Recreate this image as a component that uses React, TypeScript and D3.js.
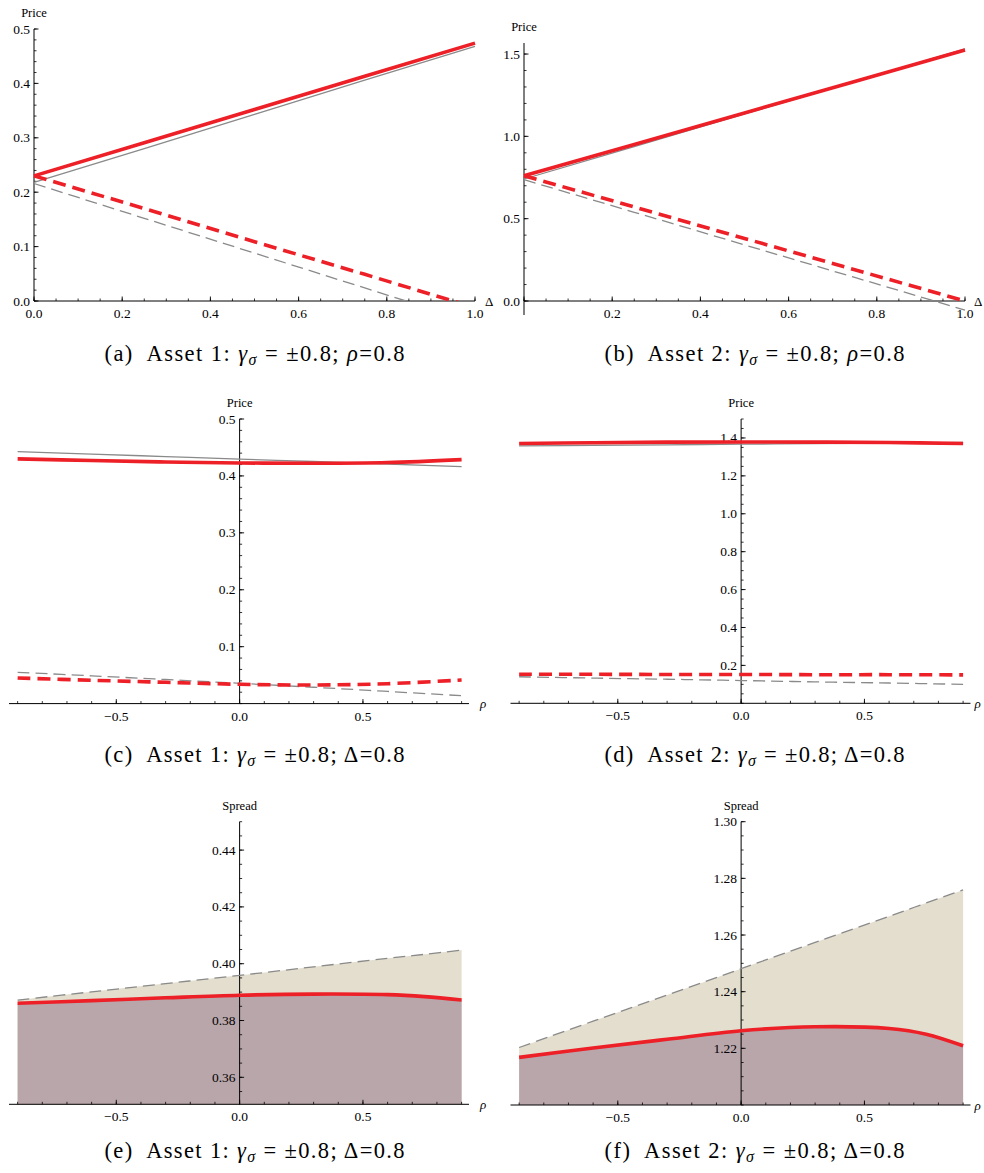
import React from 'react';
import * as d3 from 'd3';

// values
const DELTA = [0, 0.25, 0.5, 0.75, 1];
const A1_RED = [0.23, 0.291, 0.352, 0.413, 0.474];
const A1_GRAY = [0.218, 0.28, 0.343, 0.406, 0.468];
const A1_RED_DASH = [0.23, 0.17, 0.109, 0.049, -0.012];
const A1_GRAY_DASH = [0.216, 0.152, 0.088, 0.024, -0.04];

const A2_RED = [0.761, 0.951, 1.142, 1.333, 1.524];
const A2_GRAY = [0.741, 0.938, 1.136, 1.333, 1.532];
const A2_RED_DASH = [0.761, 0.571, 0.38, 0.19, 0.0];
const A2_GRAY_DASH = [0.737, 0.539, 0.341, 0.143, -0.055];

const RHO = [-0.9, -0.6, -0.3, 0, 0.3, 0.6, 0.9];
const C_RED = [0.4299, 0.427, 0.4245, 0.4228, 0.4222, 0.4235, 0.4287];
const C_GRAY = [0.4427, 0.4384, 0.434, 0.4296, 0.4253, 0.4209, 0.4165];
const C_RED_DASH = [0.045, 0.041, 0.0374, 0.0339, 0.0327, 0.035, 0.0415];
const C_GRAY_DASH = [0.055, 0.0488, 0.0423, 0.0357, 0.0287, 0.0214, 0.0139];

const D_RED = [1.371, 1.375, 1.378, 1.379, 1.378, 1.376, 1.371];
const D_GRAY = [1.358, 1.361, 1.364, 1.367, 1.37, 1.373, 1.376];
const D_RED_DASH = [0.153, 0.153, 0.152, 0.152, 0.151, 0.151, 0.15];
const D_GRAY_DASH = [0.14, 0.133, 0.127, 0.12, 0.113, 0.107, 0.1];

const RHO_S = [-0.9, -0.6, -0.3, 0, 0.3, 0.6, 0.75, 0.9];
const E_RED = [0.3861, 0.387, 0.388, 0.3889, 0.3893, 0.3891, 0.3884, 0.3872];
const E_GRAY_DASH = [0.3872, 0.3901, 0.393, 0.3959, 0.3989, 0.4019, 0.4033, 0.4048];
const F_RED = [1.2168, 1.2201, 1.2232, 1.2262, 1.2276, 1.227, 1.225, 1.2209];
const F_GRAY_DASH = [1.2203, 1.2296, 1.2388, 1.2481, 1.2574, 1.2666, 1.2713, 1.2759];

const DELTA_TICKS = [0, 0.2, 0.4, 0.6, 0.8, 1.0];
const RHO_TICKS = [-0.5, 0, 0.5];
const A_Y_TICKS = [0, 0.1, 0.2, 0.3, 0.4, 0.5];
const B_Y_TICKS = [0, 0.5, 1.0, 1.5];
const C_Y_TICKS = [0.1, 0.2, 0.3, 0.4, 0.5];
const D_Y_TICKS = [0.2, 0.4, 0.6, 0.8, 1.0, 1.2, 1.4];
const E_Y_TICKS = [0.36, 0.38, 0.4, 0.42, 0.44];
const F_Y_TICKS = [1.22, 1.24, 1.26, 1.28, 1.3];

const CAPTIONS = [
  { tag: 'a', asset: 1, par: 'ρ' },
  { tag: 'b', asset: 2, par: 'ρ' },
  { tag: 'c', asset: 1, par: 'Δ' },
  { tag: 'd', asset: 2, par: 'Δ' },
  { tag: 'e', asset: 1, par: 'Δ' },
  { tag: 'f', asset: 2, par: 'Δ' },
];

const RED = '#ed1f27';
const GRAY = '#8a8a8a';
const BEIGE = '#e3dece';
const MAUVE = '#b9a6ab';
const SERIF = "'Liberation Serif', 'Times New Roman', Times, 'DejaVu Serif', serif";
const serif = { fontFamily: SERIF };

type Kind = 'red' | 'gray' | 'redDash' | 'grayDash';
type Series = { xs: number[]; ys: number[]; kind: Kind };

const STYLE: Record<Kind, { stroke: string; w: number; dash?: string }> = {
  gray: { stroke: GRAY, w: 1.3 },
  grayDash: { stroke: GRAY, w: 1.3, dash: '12,6' },
  red: { stroke: RED, w: 3.6 },
  redDash: { stroke: RED, w: 3.6, dash: '13,7' },
};

function ticksIn(dom: number[], step: number) {
  const lo = Math.ceil(dom[0] / step - 1e-6), hi = Math.floor(dom[1] / step + 1e-6);
  return d3.range(lo, hi + 1).map(i => +(i * step).toFixed(5));
}

function Panel({ p }: { p: any }) {
  const x = d3.scaleLinear().domain(p.xDom).range(p.xRange);
  const y = d3.scaleLinear().domain(p.yDom).range(p.yRange);
  const ax = x(0), ay = y(p.xAxisAt);
  const fmt = d3.format(p.yFmt);
  const xfmt = d3.format('.1f');
  const curve = p.smooth ? d3.curveCatmullRom.alpha(0.5) : d3.curveLinear;
  const line = (s: Series) => d3.line<number>().x((_, i) => x(s.xs[i])).y(v => y(v)).curve(curve)(s.ys) || '';
  const clip = `clip-${p.id}`;
  const top = p.yRange[1];
  return (
    <g>
      <defs>
        <clipPath id={clip}>
          <rect x={p.xRange[0] - 6} y={top - 6} width={p.xRange[1] - p.xRange[0] + 12} height={p.yRange[0] - top + 6} />
        </clipPath>
      </defs>
      {(p.fills || []).map((f: any, i: number) => (
        <path key={i} fill={f.color} stroke="none"
          d={d3.area<number>().x((_, j) => x(f.xs[j])).y0(y(p.yDom[0])).y1(v => y(v)).curve(curve)(f.ys) || ''} />
      ))}
      {/* axes */}
      <line x1={p.xRange[0]} x2={p.xRange[1]} y1={ay} y2={ay} stroke="#000" strokeWidth={1} />
      <line x1={ax} x2={ax} y1={p.yRange[0]} y2={top} stroke="#000" strokeWidth={1} />
      {ticksIn(p.xDom, p.xMinor).map(t => (
        <line key={'xm' + t} x1={x(t)} x2={x(t)} y1={ay} y2={ay - 2.5} stroke="#000" strokeWidth={0.8} />
      ))}
      {p.xTicks.map((t: number) => (
        <line key={'xM' + t} x1={x(t)} x2={x(t)} y1={ay} y2={ay - 4.5} stroke="#000" strokeWidth={0.9} />
      ))}
      {ticksIn(p.yDom, p.yMinor).map(t => (
        <line key={'ym' + t} x1={ax} x2={ax + 2.5} y1={y(t)} y2={y(t)} stroke="#000" strokeWidth={0.8} />
      ))}
      {p.yTicks.map((t: number) => (
        <line key={'yM' + t} x1={ax} x2={ax + 4.5} y1={y(t)} y2={y(t)} stroke="#000" strokeWidth={0.9} />
      ))}
      <g style={serif} fontSize={13.5} fill="#000">
        {p.xTicks.filter((t: number) => !(p.xSkip || []).includes(t)).map((t: number) => (
          <text key={'xl' + t} x={x(t)} y={ay + 17} textAnchor="middle">{xfmt(t)}</text>
        ))}
        {p.yTicks.map((t: number) => (
          <text key={'yl' + t} x={ax - 4} y={y(t) + 4.5} textAnchor="end">{fmt(t)}</text>
        ))}
      </g>
      <text x={ax} y={top - 12} textAnchor="middle" style={serif} fontSize={12.5}>{p.yTitle}</text>
      <text x={p.xRange[1] + p.xTitleGap} y={ay + 4.5} style={serif} fontSize={13}
        fontStyle={p.xTitle === 'ρ' ? 'italic' : 'normal'}>{p.xTitle}</text>
      <g clipPath={`url(#${clip})`} fill="none">
        {p.series.map((s: Series, i: number) => (
          <path key={i} d={line(s)} stroke={STYLE[s.kind].stroke} strokeWidth={STYLE[s.kind].w}
            strokeDasharray={STYLE[s.kind].dash} />
        ))}
      </g>
    </g>
  );
}

function Caption({ c, cx, cy }: { c: any; cx: number; cy: number }) {
  return (
    <text x={cx} y={cy} textAnchor="middle" style={serif} fontSize={22.5} textLength={300} lengthAdjust="spacing">
      {`(${c.tag})\u2002Asset ${c.asset}: `}
      <tspan fontStyle="italic">γ</tspan>
      <tspan fontStyle="italic" fontSize={16} dy={4}>σ</tspan>
      <tspan dy={-4}>{' = ±0.8; '}</tspan>
      {c.par === 'ρ' ? <tspan fontStyle="italic">ρ</tspan> : <tspan>Δ</tspan>}
      <tspan>=0.8</tspan>
    </text>
  );
}

const RX_L = [9, 469], RX_R = [510.5, 970.5], RHO_DOM = [-0.935, 0.93];

const PANELS = [
  {
    id: 'a', xDom: [0, 1], xRange: [34, 475], yDom: [0, 0.5], yRange: [301, 29], xAxisAt: 0,
    xTicks: DELTA_TICKS, xMinor: 0.05, yTicks: A_Y_TICKS, yMinor: 0.02, yFmt: '.1f',
    yTitle: 'Price', xTitle: 'Δ', xTitleGap: 10, smooth: false,
    series: [
      { xs: DELTA, ys: A1_GRAY, kind: 'gray' }, { xs: DELTA, ys: A1_GRAY_DASH, kind: 'grayDash' },
      { xs: DELTA, ys: A1_RED, kind: 'red' }, { xs: DELTA, ys: A1_RED_DASH, kind: 'redDash' },
    ],
  },
  {
    id: 'b', xDom: [0, 1], xRange: [524, 965], yDom: [-0.085, 1.567], yRange: [315, 43], xAxisAt: 0,
    xTicks: DELTA_TICKS, xSkip: [0], xMinor: 0.05, yTicks: B_Y_TICKS, yMinor: 0.1, yFmt: '.1f',
    yTitle: 'Price', xTitle: 'Δ', xTitleGap: 9, smooth: false,
    series: [
      { xs: DELTA, ys: A2_GRAY, kind: 'gray' }, { xs: DELTA, ys: A2_GRAY_DASH, kind: 'grayDash' },
      { xs: DELTA, ys: A2_RED, kind: 'red' }, { xs: DELTA, ys: A2_RED_DASH, kind: 'redDash' },
    ],
  },
  {
    id: 'c', xDom: RHO_DOM, xRange: RX_L, yDom: [0, 0.5], yRange: [703.6, 419], xAxisAt: 0,
    xTicks: RHO_TICKS, xMinor: 0.1, yTicks: C_Y_TICKS, yMinor: 0.02, yFmt: '.1f',
    yTitle: 'Price', xTitle: 'ρ', xTitleGap: 11, smooth: true,
    series: [
      { xs: RHO, ys: C_GRAY, kind: 'gray' }, { xs: RHO, ys: C_GRAY_DASH, kind: 'grayDash' },
      { xs: RHO, ys: C_RED, kind: 'red' }, { xs: RHO, ys: C_RED_DASH, kind: 'redDash' },
    ],
  },
  {
    id: 'd', xDom: RHO_DOM, xRange: RX_R, yDom: [0, 1.5], yRange: [703.3, 419], xAxisAt: 0,
    xTicks: RHO_TICKS, xMinor: 0.1, yTicks: D_Y_TICKS, yMinor: 0.05, yFmt: '.1f',
    yTitle: 'Price', xTitle: 'ρ', xTitleGap: 4, smooth: true,
    series: [
      { xs: RHO, ys: D_GRAY, kind: 'gray' }, { xs: RHO, ys: D_GRAY_DASH, kind: 'grayDash' },
      { xs: RHO, ys: D_RED, kind: 'red' }, { xs: RHO, ys: D_RED_DASH, kind: 'redDash' },
    ],
  },
  {
    id: 'e', xDom: RHO_DOM, xRange: RX_L, yDom: [0.3505, 0.45], yRange: [1104.3, 821.7], xAxisAt: 0.3505,
    xTicks: RHO_TICKS, xMinor: 0.1, yTicks: E_Y_TICKS, yMinor: 0.005, yFmt: '.2f',
    yTitle: 'Spread', xTitle: 'ρ', xTitleGap: 11, smooth: true,
    fills: [{ xs: RHO_S, ys: E_GRAY_DASH, color: BEIGE }, { xs: RHO_S, ys: E_RED, color: MAUVE }],
    series: [{ xs: RHO_S, ys: E_GRAY_DASH, kind: 'grayDash' }, { xs: RHO_S, ys: E_RED, kind: 'red' }],
  },
  {
    id: 'f', xDom: RHO_DOM, xRange: RX_R, yDom: [1.2, 1.3], yRange: [1105, 821.7], xAxisAt: 1.2,
    xTicks: RHO_TICKS, xMinor: 0.1, yTicks: F_Y_TICKS, yMinor: 0.005, yFmt: '.2f',
    yTitle: 'Spread', xTitle: 'ρ', xTitleGap: 4, smooth: true,
    fills: [{ xs: RHO_S, ys: F_GRAY_DASH, color: BEIGE }, { xs: RHO_S, ys: F_RED, color: MAUVE }],
    series: [{ xs: RHO_S, ys: F_GRAY_DASH, kind: 'grayDash' }, { xs: RHO_S, ys: F_RED, kind: 'red' }],
  },
];

const CAP_X = [254.5, 754.5];
const CAP_Y = [361, 762, 1158];

export default function App() {
  return (
    <svg width={984} height={1173} style={{ position: 'absolute', left: 0, top: 0, background: '#fff' }}>
      {PANELS.map(p => <Panel key={p.id} p={p} />)}
      {CAPTIONS.map((c, i) => <Caption key={c.tag} c={c} cx={CAP_X[i % 2]} cy={CAP_Y[Math.floor(i / 2)]} />)}
    </svg>
  );
}
